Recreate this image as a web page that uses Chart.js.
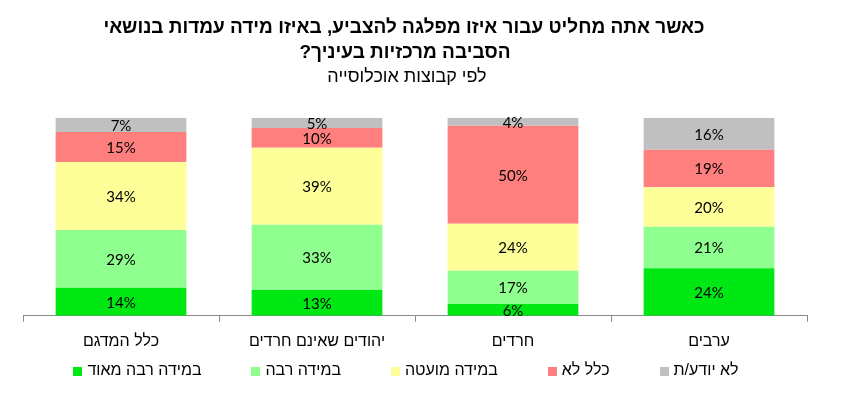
<!DOCTYPE html>
<html>
<head>
<meta charset="utf-8">
<script src="https://cdn.jsdelivr.net/npm/chart.js@4/dist/chart.umd.min.js"></script>
<style>
html,body{margin:0;padding:0;background:#fff;}
</style>
</head>
<body>
<canvas id="c" width="845" height="396"></canvas>
<script>
const titleLines = ['כאשר אתה מחליט עבור איזו מפלגה להצביע, באיזו מידה עמדות בנושאי', 'הסביבה מרכזיות בעיניך?'];
const subtitleText = 'לפי קבוצות אוכלוסייה';
const categories = ['כלל המדגם', 'יהודים שאינם חרדים', 'חרדים', 'ערבים'];
const seriesNames = ['במידה רבה מאוד', 'במידה רבה', 'במידה מועטה', 'כלל לא', 'לא יודע/ת'];
const veryMuch = [14, 13, 6, 24];
const much = [29, 33, 17, 21];
const little = [34, 39, 24, 20];
const notAtAll = [15, 10, 50, 19];
const dontKnow = [7, 5, 4, 16];
const seriesColors = ['#00E813', '#8FFF8F', '#FFFF99', '#FF7F7F', '#C0C0C0'];

const rawSeries = [veryMuch, much, little, notAtAll, dontKnow];
const totals = categories.map((_, i) => rawSeries.reduce((s, arr) => s + arr[i], 0));

const HEB = '"Liberation Sans", Arial, sans-serif';

const labelPlugin = {
  id: 'segLabels',
  afterDatasetsDraw(chart) {
    const ctx = chart.ctx;
    ctx.save();
    ctx.font = '15px Lato, sans-serif';
    ctx.fillStyle = '#000';
    ctx.textAlign = 'center';
    ctx.textBaseline = 'middle';
    chart.data.datasets.forEach((ds, di) => {
      chart.getDatasetMeta(di).data.forEach((bar, i) => {
        const p = bar.getProps(['x', 'y', 'base'], true);
        ctx.fillText(rawSeries[di][i] + '%', p.x, (p.y + p.base) / 2 + 1);
      });
    });
    ctx.restore();
  }
};

const titlePlugin = {
  id: 'rtlTitle',
  afterDraw(chart) {
    const ctx = chart.ctx;
    ctx.save();
    ctx.direction = 'rtl';
    ctx.textAlign = 'center';
    ctx.textBaseline = 'middle';
    ctx.fillStyle = '#000';
    ctx.font = 'bold 19px ' + HEB;
    ctx.fillText(titleLines[0], 404, 28);
    ctx.fillText(titleLines[1], 405, 53);
    ctx.font = '18px ' + HEB;
    ctx.fillText(subtitleText, 407, 77);
    ctx.restore();
  }
};

const legendPlugin = {
  id: 'customLegend',
  afterDraw(chart) {
    const ctx = chart.ctx;
    ctx.save();
    ctx.font = '16px ' + HEB;
    ctx.textBaseline = 'middle';
    const box = 9, gapBox = 5, gapItem = 50;
    const widths = seriesNames.map(t => box + gapBox + ctx.measureText(t).width);
    const total = widths.reduce((a, b) => a + b, 0) + gapItem * (widths.length - 1);
    let x = 406 - total / 2;
    const y = 371;
    seriesNames.forEach((t, i) => {
      ctx.fillStyle = seriesColors[i];
      ctx.fillRect(Math.round(x), Math.round(y - box / 2), box, box);
      ctx.fillStyle = '#000';
      ctx.textAlign = 'left';
      ctx.fillText(t, x + box + gapBox, y);
      x += widths[i] + gapItem;
    });
    ctx.restore();
  }
};

new Chart(document.getElementById('c'), {
  type: 'bar',
  data: {
    labels: categories,
    datasets: seriesNames.map((name, si) => ({
      label: name,
      data: rawSeries[si].map((v, i) => v / totals[i] * 100),
      backgroundColor: seriesColors[si],
      borderWidth: 0,
      categoryPercentage: 1,
      barPercentage: 0.667
    }))
  },
  options: {
    responsive: false,
    animation: false,
    devicePixelRatio: 1,
    layout: { padding: { top: 118, left: 23, right: 38, bottom: 35 } },
    plugins: {
      legend: { display: false },
      title: { display: false },
      tooltip: { enabled: false }
    },
    scales: {
      x: {
        stacked: true,
        grid: { display: true, drawOnChartArea: false, drawTicks: true, tickLength: 6, color: '#898989', offset: true },
        border: { display: true, color: '#898989', width: 1 },
        ticks: { color: '#000', font: { family: HEB, size: 16 }, padding: 10 }
      },
      y: {
        stacked: true,
        display: false,
        min: 0,
        max: 100
      }
    }
  },
  plugins: [labelPlugin, titlePlugin, legendPlugin]
});
</script>
</body>
</html>
